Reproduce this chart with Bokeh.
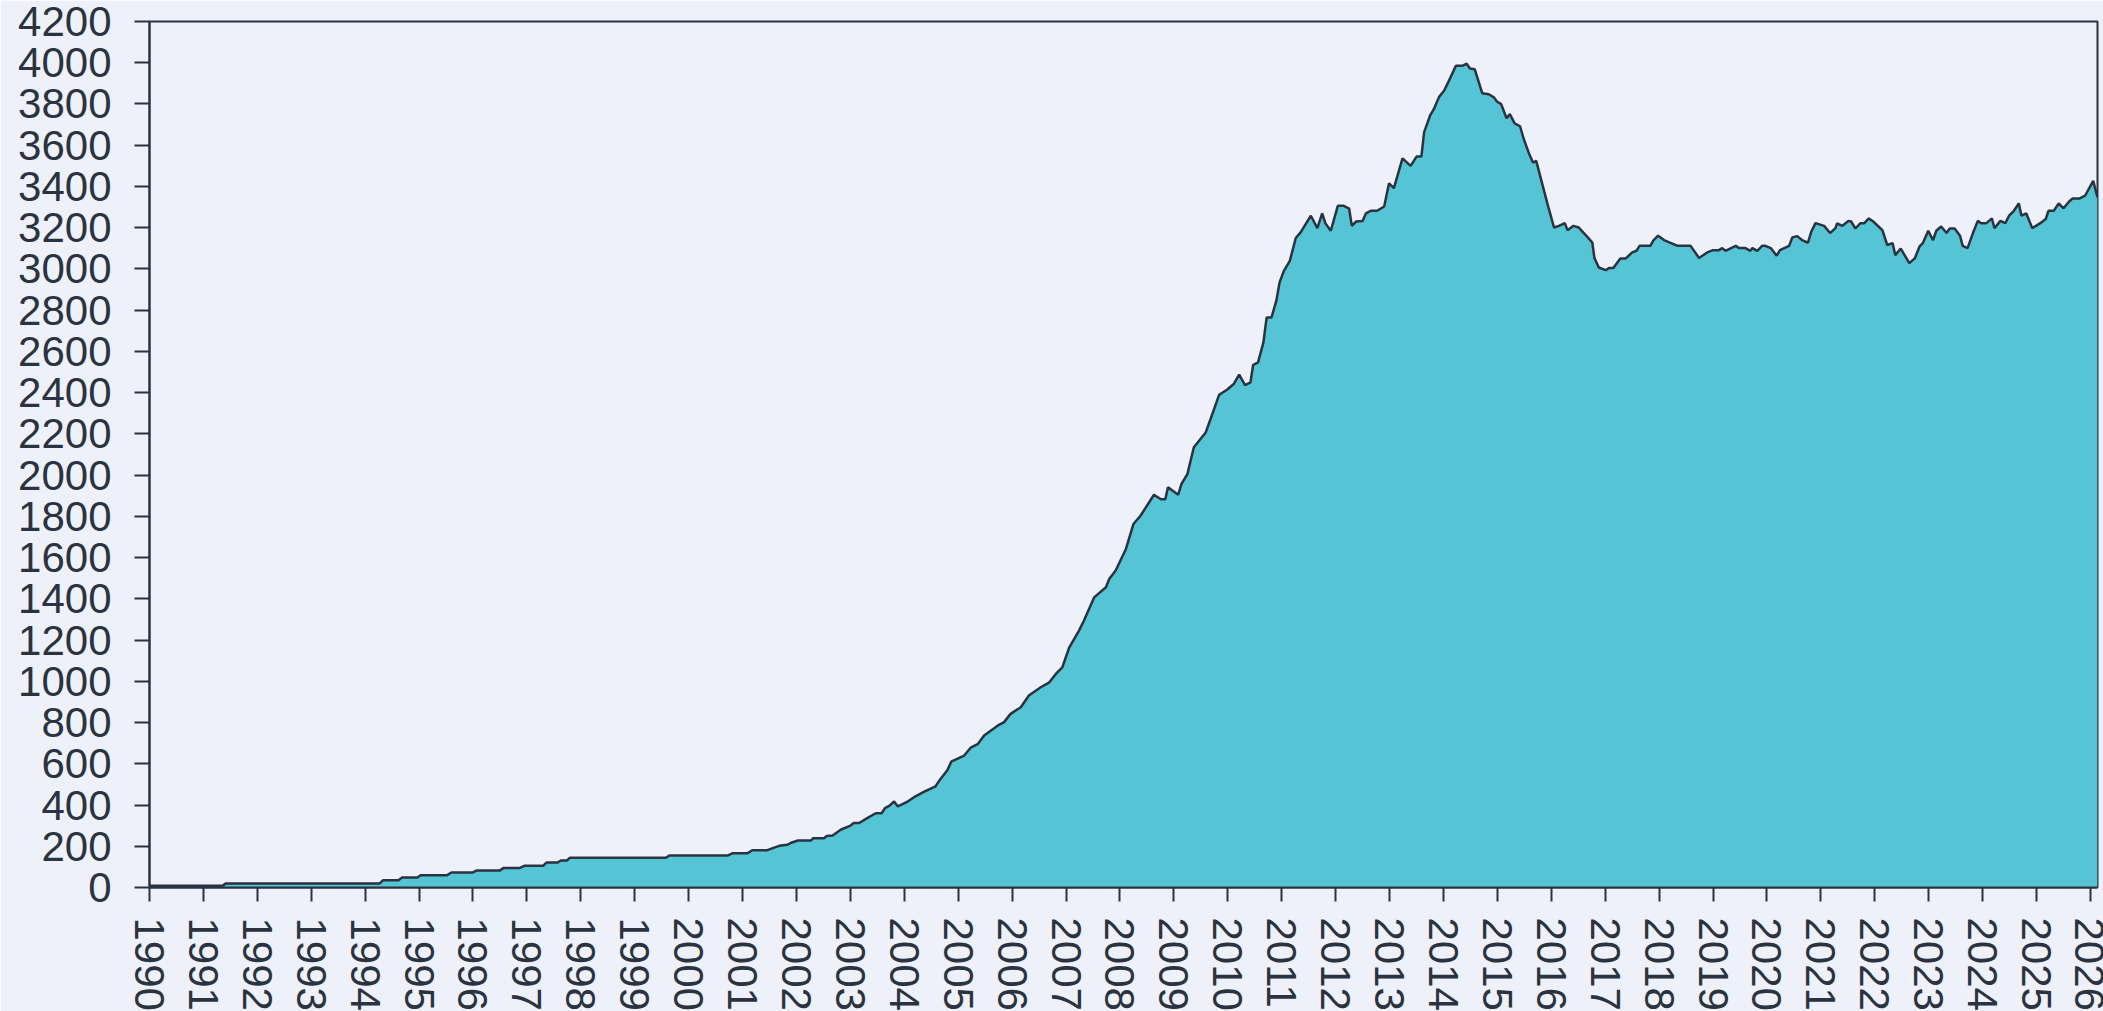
import math
from bokeh.plotting import figure
from bokeh.models import FixedTicker, Range1d
from bokeh.embed import file_html
from bokeh.resources import INLINE

# ---- data (decimal year, value) ----
dates = [
    1990.0, 1991.35, 1991.42, 1994.27, 1994.33, 1994.62, 1994.68, 1994.97, 1995.03, 1995.52,
    1995.6, 1996.0, 1996.07, 1996.5, 1996.57, 1996.87, 1996.95, 1997.3, 1997.36, 1997.57,
    1997.63, 1997.74, 1997.8, 1999.58, 1999.64, 2000.72, 2000.81, 2001.09, 2001.18, 2001.46,
    2001.56, 2001.68, 2001.83, 2001.9, 2002.03, 2002.27, 2002.31, 2002.51, 2002.56, 2002.67,
    2002.82, 2003.0, 2003.06, 2003.16, 2003.32, 2003.47, 2003.58, 2003.64, 2003.72, 2003.81,
    2003.88, 2004.06, 2004.18, 2004.37, 2004.58, 2004.65, 2004.8, 2004.87, 2005.11, 2005.23,
    2005.36, 2005.48, 2005.73, 2005.85, 2005.97, 2006.16, 2006.31, 2006.53, 2006.69, 2006.81,
    2006.93, 2007.06, 2007.24, 2007.33, 2007.52, 2007.74, 2007.8, 2007.92, 2008.11, 2008.25,
    2008.38, 2008.63, 2008.76, 2008.84, 2008.89, 2009.08, 2009.14, 2009.25, 2009.37, 2009.59,
    2009.68, 2009.84, 2009.99, 2010.11, 2010.21, 2010.32, 2010.42, 2010.47, 2010.56, 2010.66,
    2010.72, 2010.81, 2010.9, 2010.96, 2011.04, 2011.15, 2011.26, 2011.35, 2011.54, 2011.66,
    2011.75, 2011.81, 2011.91, 2012.04, 2012.15, 2012.25, 2012.3, 2012.38, 2012.5, 2012.56,
    2012.65, 2012.77, 2012.9, 2012.99, 2013.08, 2013.24, 2013.39, 2013.5, 2013.59, 2013.64,
    2013.75, 2013.82, 2013.92, 2014.01, 2014.1, 2014.23, 2014.35, 2014.43, 2014.49, 2014.58,
    2014.72, 2014.84, 2014.94, 2014.99, 2015.07, 2015.17, 2015.23, 2015.32, 2015.42, 2015.49,
    2015.59, 2015.66, 2015.72, 2015.8, 2015.93, 2016.05, 2016.14, 2016.25, 2016.3, 2016.41,
    2016.51, 2016.59, 2016.68, 2016.76, 2016.8, 2016.88, 2017.01, 2017.07, 2017.15, 2017.28,
    2017.38, 2017.5, 2017.58, 2017.64, 2017.84, 2017.89, 2017.98, 2018.09, 2018.33, 2018.58,
    2018.74, 2018.89, 2019.0, 2019.11, 2019.17, 2019.23, 2019.42, 2019.48, 2019.6, 2019.69,
    2019.73, 2019.82, 2019.91, 2019.97, 2020.07, 2020.18, 2020.24, 2020.41, 2020.47, 2020.56,
    2020.65, 2020.76, 2020.82, 2020.9, 2021.06, 2021.17, 2021.27, 2021.3, 2021.4, 2021.51,
    2021.56, 2021.64, 2021.73, 2021.8, 2021.89, 2021.97, 2022.14, 2022.23, 2022.33, 2022.38,
    2022.48, 2022.64, 2022.74, 2022.83, 2022.89, 2022.99, 2023.08, 2023.14, 2023.23, 2023.33,
    2023.39, 2023.48, 2023.58, 2023.63, 2023.72, 2023.82, 2023.91, 2023.97, 2024.07, 2024.17,
    2024.22, 2024.33, 2024.42, 2024.49, 2024.58, 2024.67, 2024.72, 2024.81, 2024.92, 2025.07,
    2025.17, 2025.22, 2025.32, 2025.41, 2025.5, 2025.6, 2025.67, 2025.8, 2025.9, 2026.05,
    2026.13,
]
values = [
    8, 8, 20, 20, 35, 35, 48, 48, 60, 60,
    73, 73, 83, 83, 95, 95, 105, 105, 121, 121,
    131, 131, 144, 144, 155, 155, 166, 166, 181, 181,
    191, 202, 207, 217, 228, 228, 239, 239, 250, 252,
    280, 300, 313, 313, 338, 360, 360, 385, 396, 417,
    393, 417, 438, 465, 491, 519, 570, 610, 640, 678,
    695, 737, 785, 802, 842, 874, 931, 971, 995, 1036,
    1068, 1165, 1246, 1294, 1407, 1456, 1496, 1537, 1642, 1763,
    1803, 1905, 1883, 1883, 1941, 1905, 1957, 2005, 2135, 2207,
    2272, 2390, 2415, 2442, 2487, 2437, 2450, 2535, 2547, 2644,
    2765, 2765, 2846, 2935, 2991, 3039, 3150, 3177, 3258, 3198,
    3269, 3221, 3185, 3306, 3306, 3293, 3209, 3230, 3233, 3269,
    3282, 3282, 3303, 3415, 3392, 3536, 3500, 3545, 3545, 3662,
    3743, 3775, 3835, 3864, 3912, 3985, 3985, 3996, 3972, 3968,
    3852, 3847, 3831, 3812, 3799, 3731, 3751, 3706, 3692, 3629,
    3557, 3516, 3524, 3444, 3314, 3201, 3209, 3222, 3188, 3209,
    3201, 3177, 3152, 3128, 3053, 3007, 2994, 3004, 3004, 3051,
    3051, 3080, 3088, 3113, 3113, 3137, 3161, 3140, 3113, 3113,
    3053, 3080, 3091, 3091, 3101, 3088, 3112, 3101, 3101, 3088,
    3101, 3088, 3112, 3112, 3101, 3064, 3091, 3112, 3153, 3159,
    3140, 3127, 3180, 3222, 3209, 3174, 3198, 3221, 3209, 3233,
    3230, 3196, 3221, 3221, 3245, 3230, 3188, 3116, 3125, 3067,
    3099, 3028, 3051, 3109, 3125, 3185, 3140, 3185, 3206, 3174,
    3196, 3196, 3161, 3112, 3101, 3174, 3233, 3222, 3222, 3245,
    3198, 3233, 3222, 3258, 3282, 3318, 3258, 3269, 3198, 3222,
    3242, 3282, 3282, 3318, 3294, 3326, 3342, 3342, 3355, 3427,
    3347,
]
year_ticks = list(range(1990, 2027))
y_ticks = list(range(0, 4201, 200))

BG = "#eef1fa"
FILL = "#55c5d6"
DARK = "#2b3340"
FONT = "Liberation Sans"
FSIZE = "42px"

p = figure(
    frame_width=1948, frame_height=866,
    min_border_left=149, min_border_right=6, min_border_top=21, min_border_bottom=110,
    x_range=Range1d(1990, 2026.13), y_range=Range1d(0, 4200),
    output_backend="svg", toolbar_location=None,
    background_fill_color=BG, border_fill_color=BG,
)

p.varea(x=dates, y1=0, y2=values, fill_color=FILL)
p.line(dates, values, line_color=DARK, line_width=2.5)

p.grid.visible = False
p.outline_line_color = DARK
p.outline_line_width = 2
p.outline_line_alpha = 1

for ax in (p.xaxis[0], p.yaxis[0]):
    ax.axis_line_color = DARK
    ax.axis_line_width = 2
    ax.major_tick_line_color = DARK
    ax.major_tick_line_width = 2
    ax.minor_tick_line_color = None
    ax.major_tick_in = 0
    ax.major_label_text_font = FONT
    ax.major_label_text_font_size = FSIZE
    ax.major_label_text_color = DARK

p.xaxis.ticker = FixedTicker(ticks=year_ticks)
p.xaxis.major_tick_out = 14
p.xaxis.major_label_standoff = 16
p.xaxis.major_label_orientation = -math.pi / 2
p.xaxis.major_label_overrides = {t: str(t) for t in year_ticks}

p.yaxis.ticker = FixedTicker(ticks=y_ticks)
p.yaxis.major_tick_out = 15
p.yaxis.major_label_standoff = 23
p.yaxis.major_label_overrides = {t: str(t) for t in y_ticks}

html = file_html(p, INLINE)
html = html.replace("<body>", '<body style="background-color:%s;">' % BG, 1)
open("out.html", "w").write(html)
